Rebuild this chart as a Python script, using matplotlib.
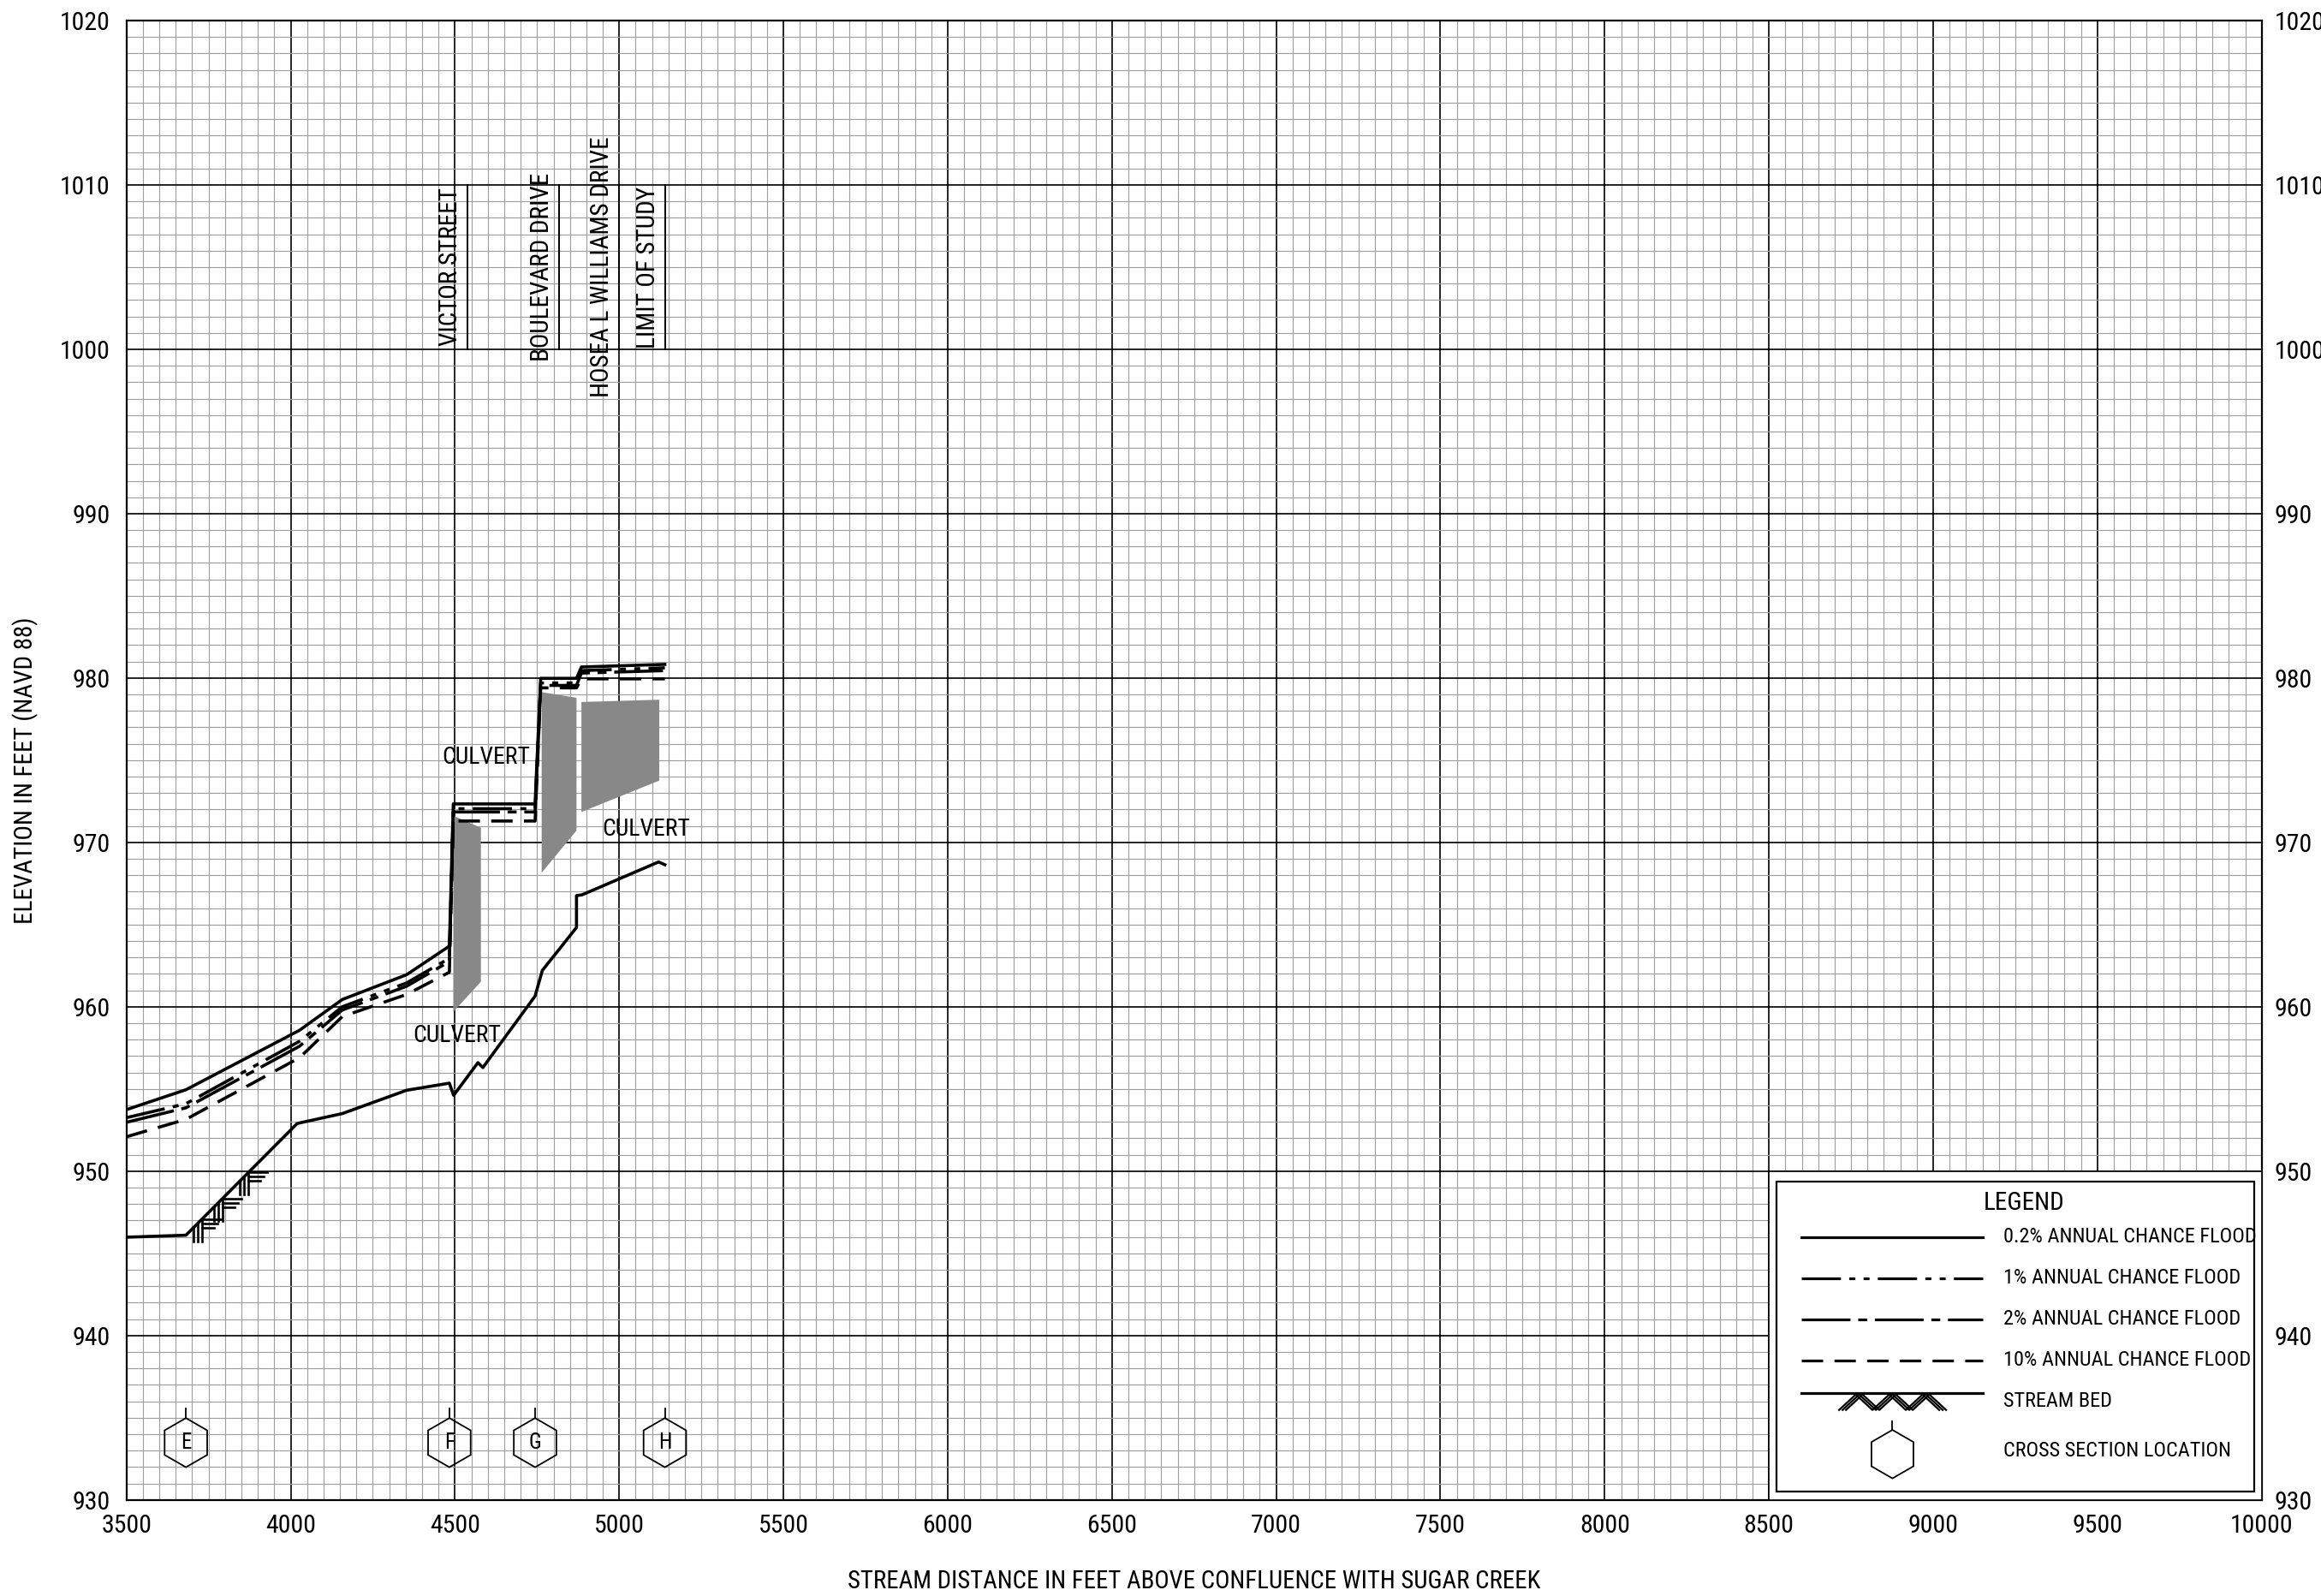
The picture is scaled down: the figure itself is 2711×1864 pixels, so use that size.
import numpy as np
import matplotlib
matplotlib.use('Agg')
import matplotlib.pyplot as plt
from matplotlib import font_manager as fm
from matplotlib.ticker import MultipleLocator
from matplotlib.patches import Polygon, Rectangle

# ---------------- fonts ----------------
_names = {f.name for f in fm.fontManager.ttflist}
FONT = None
for cand in ['Liberation Sans Narrow', 'Roboto Condensed', 'Open Sans Condensed', 'Liberation Sans']:
    if cand in _names:
        FONT = cand
        break
plt.rcParams['font.family'] = [FONT, 'DejaVu Sans'] if FONT else ['DejaVu Sans']
plt.rcParams['lines.scale_dashes'] = False

# ---------------- data ----------------
station = [3500, 3681, 4027, 4157, 4353, 4483, 4495, 4744, 4761, 4870, 4885, 5139]
flood_02 = [953.74, 954.95, 958.57, 960.44, 961.95, 963.69, 972.34, 972.34, 979.98, 979.98, 980.67, 980.83]
flood_1 = [953.25, 954.10, 957.90, 960.00, 961.45, 962.95, 972.05, 972.05, 979.70, 979.70, 980.45, 980.62]
flood_2 = [952.97, 953.85, 957.60, 959.80, 961.25, 962.75, 971.85, 971.85, 979.55, 979.55, 980.30, 980.45]
flood_10 = [952.09, 953.15, 956.90, 959.40, 960.75, 962.10, 971.30, 971.30, 979.40, 979.40, 979.95, 979.95]

bed_x = [3500, 3681, 4020, 4157, 4353, 4483, 4496, 4570, 4585, 4744, 4766, 4870, 4870, 4887, 5120, 5139]
bed_y = [945.98, 946.10, 952.90, 953.50, 954.92, 955.35, 954.61, 956.60, 956.30, 960.65, 962.21,
         964.82, 966.76, 966.81, 968.81, 968.64]
hatch_station = [3704, 3767, 3845]

culvert_x = [[4495, 4579, 4579, 4495], [4764, 4870, 4870, 4764], [4885, 5122, 5122, 4885]]
culvert_y = [[971.62, 970.89, 961.52, 959.69], [979.14, 978.80, 970.72, 968.15],
             [978.54, 978.68, 973.76, 971.85]]
culvert_label_x = [4596, 4507, 5081]
culvert_label_y = [975.19, 958.27, 970.81]

roads = ['VICTOR STREET', 'BOULEVARD DRIVE', 'HOSEA L WILLIAMS DRIVE', 'LIMIT OF STUDY']
road_station = [4537, 4816, 5000, 5139]

xs_labels = ['E', 'F', 'G', 'H']
xs_station = [3681, 4483, 4744, 5139]

x_ticks = list(range(3500, 10001, 500))
y_ticks = list(range(930, 1021, 10))

legend_labels = ['0.2% ANNUAL CHANCE FLOOD', '1% ANNUAL CHANCE FLOOD', '2% ANNUAL CHANCE FLOOD',
                 '10% ANNUAL CHANCE FLOOD', 'STREAM BED', 'CROSS SECTION LOCATION']

# ---------------- figure ----------------
W, H = 2711, 1864
fig = plt.figure(figsize=(W / 100, H / 100), dpi=100)
L, R, T, B = 147.7, 2641.7, 24.0, 1751.7
ax = fig.add_axes([L / W, 1 - B / H, (R - L) / W, (B - T) / H])
XMIN, XMAX, YMIN, YMAX = 3500, 10000, 930, 1020
ax.set_xlim(XMIN, XMAX)
ax.set_ylim(YMIN, YMAX)
FTPX = (XMAX - XMIN) / (R - L)      # feet per pixel
ELPX = (YMAX - YMIN) / (B - T)      # elevation per pixel

ax.xaxis.set_major_locator(MultipleLocator(500))
ax.xaxis.set_minor_locator(MultipleLocator(50))
ax.yaxis.set_major_locator(MultipleLocator(10))
ax.yaxis.set_minor_locator(MultipleLocator(1))
ax.set_xticks(x_ticks)
ax.set_yticks(y_ticks)
ax.set_axisbelow(True)
ax.grid(which='minor', color='#a0a0a0', lw=0.85)
ax.grid(which='major', color='black', lw=1.2)
ax.tick_params(which='both', length=0)
ax.tick_params(axis='x', labelsize=21.5, pad=12)
ax.tick_params(axis='y', labelsize=21.5, pad=14)
for s in ax.spines.values():
    s.set_linewidth(1.6)

ax2 = ax.twinx()
ax2.set_ylim(YMIN, YMAX)
ax2.set_yticks(y_ticks)
ax2.tick_params(length=0, labelsize=21.5, pad=11)
for s in ax2.spines.values():
    s.set_visible(False)

# dash styles (points)
DS_1 = (0, (33, 7, 5, 7, 5, 7))
DS_2 = (0, (41, 6.5, 7.5, 6.5))
DS_10 = (0, (18, 9.5))
LW = 2.6

# culverts
for cx, cy in zip(culvert_x, culvert_y):
    ax.add_patch(Polygon(np.column_stack([cx, cy]), closed=True, facecolor='#888888',
                         edgecolor='none', zorder=2))

ax.plot(station, flood_10, color='black', lw=LW, ls=DS_10, zorder=3)
ax.plot(station, flood_2, color='black', lw=LW, ls=DS_2, zorder=3)
ax.plot(station, flood_1, color='black', lw=LW, ls=DS_1, zorder=3)
ax.plot(station, flood_02, color='black', lw=LW, zorder=4)
ax.plot(bed_x, bed_y, color='black', lw=LW, zorder=4)

# stream bed hatching
for a in hatch_station:
    ay = np.interp(a, bed_x, bed_y)
    for d in (0, 5, 10):
        x = a + d * FTPX
        ax.plot([x, x], [np.interp(x, bed_x, bed_y), ay - 16 * ELPX], color='black', lw=1.9, zorder=4)
    for dy, end in ((10, 32), (5, 28), (0, 24)):
        ax.plot([a + 10 * FTPX, a + end * FTPX], [ay + dy * ELPX] * 2, color='black', lw=1.9, zorder=4)

# culvert labels
for cx, cy in zip(culvert_label_x, culvert_label_y):
    ax.text(cx, cy, 'CULVERT', fontsize=20, ha='center', va='center', zorder=6)

# road labels
for name, st in zip(roads, road_station):
    ax.plot([st, st], [1000, 1010], color='black', lw=1.4, zorder=3)
    ax.text(st - 20 * FTPX, 1005, name, rotation=90, fontsize=21, ha='center', va='center', zorder=6)


def hexagon(cx, cy, r_px, lw=1.3):
    ang = np.deg2rad(90 + 60 * np.arange(6))
    xs = cx + r_px * np.cos(ang) * FTPX
    ys = cy + r_px * np.sin(ang) * ELPX
    ax.add_patch(Polygon(np.column_stack([xs, ys]), closed=True, fill=False, ec='black', lw=lw, zorder=6))
    ax.plot([cx, cx], [cy + r_px * ELPX, cy + (r_px + 11) * ELPX], color='black', lw=lw, zorder=6)


XS_Y = 933.48
for lab, st in zip(xs_labels, xs_station):
    hexagon(st, XS_Y, 28.7)
    ax.text(st, XS_Y, lab, fontsize=18, ha='center', va='center', zorder=7)

# ---------------- legend ----------------
ax.add_patch(Rectangle((8500, 930), 1500, 20, facecolor='white', edgecolor='black', lw=1.2, zorder=8))
ax.add_patch(Rectangle((8523, 930.53), 9977 - 8523, 949.36 - 930.53, facecolor='white',
                       edgecolor='black', lw=1.6, zorder=9))
ax.text(9276, 948.06, 'LEGEND', fontsize=21, ha='center', va='center', zorder=10)
lx0, lx1 = 8599, 9150
ly = [946.0, 943.49, 940.98, 938.49, 936.51, 932.78]
styles = ['-', DS_1, DS_2, DS_10]
for yy, st in zip(ly[:4], styles):
    ax.plot([lx0, lx1], [yy, yy], color='black', lw=2.3, ls=st, zorder=10)
ax.plot([lx0, lx1], [ly[4], ly[4]], color='black', lw=2.3, zorder=10)
# stream bed symbol zigzag
zx0 = 8724
zpx = np.array([0, 19.5, 39, 58.5, 78, 97.5, 117])
zpy = np.array([-20, 0, -20, 0, -20, 0, -20])
for off in (-4, 0, 4):
    ax.plot(zx0 + (zpx + off) * FTPX, ly[4] - 2 * ELPX + zpy * ELPX * 0.9, color='black', lw=1.6,
            zorder=10)
# hexagon symbol
ang = np.deg2rad(90 + 60 * np.arange(6))
hx = 8876 + 28.3 * np.cos(ang) * FTPX
hy = ly[5] + 28.3 * np.sin(ang) * ELPX
ax.add_patch(Polygon(np.column_stack([hx, hy]), closed=True, fill=False, ec='black', lw=1.3, zorder=10))
ax.plot([8876, 8876], [ly[5] + 28.3 * ELPX, ly[5] + 38.3 * ELPX], color='black', lw=1.3, zorder=10)

text_y = [946.0, 943.49, 940.98, 938.49, 936.0, 933.0]
for lab, yy in zip(legend_labels, text_y):
    ax.text(9213, yy, lab, fontsize=17.5, ha='left', va='center', zorder=10)

# axis labels
fig.text(1394.7 / W, 1 - 1847 / H, 'STREAM DISTANCE IN FEET ABOVE CONFLUENCE WITH SUGAR CREEK',
         fontsize=20.7, ha='center', va='center')
fig.text(30 / W, 1 - 900 / H, 'ELEVATION IN FEET (NAVD 88)', fontsize=21, rotation=90,
         ha='center', va='center')

fig.savefig('out.png', dpi=100)
